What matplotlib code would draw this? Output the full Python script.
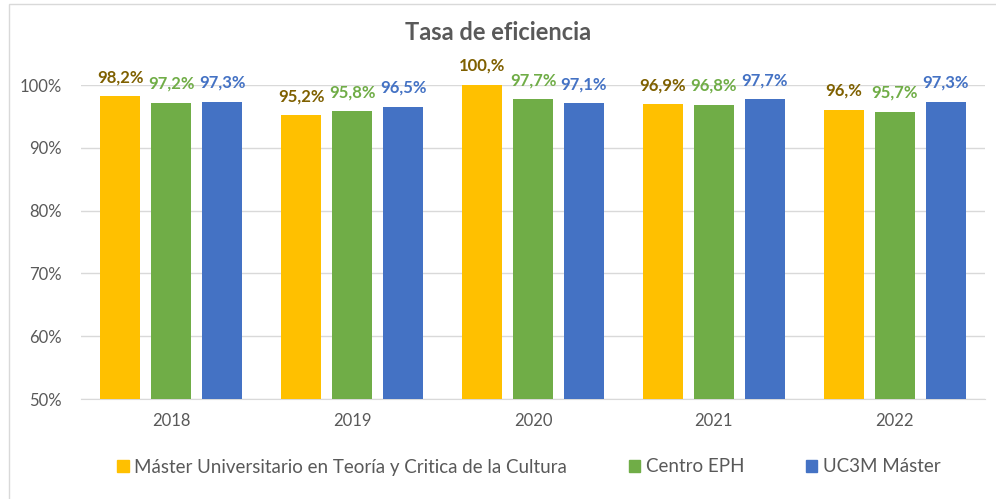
import numpy as np
import matplotlib.pyplot as plt
from matplotlib.patches import Rectangle, Patch

plt.rcParams['font.family'] = ['Lato', 'DejaVu Sans']

years = ['2018', '2019', '2020', '2021', '2022']
series = ['Máster Universitario en Teoría y Critica de la Cultura', 'Centro EPH', 'UC3M Máster']
master = [98.2, 95.2, 100.0, 96.9, 96.0]
centro = [97.2, 95.8, 97.7, 96.8, 95.7]
uc3m = [97.3, 96.5, 97.1, 97.7, 97.3]
labels_master = ['98,2%', '95,2%', '100,%', '96,9%', '96,%']
labels_centro = ['97,2%', '95,8%', '97,7%', '96,8%', '95,7%']
labels_uc3m = ['97,3%', '96,5%', '97,1%', '97,7%', '97,3%']

bar_cols = ['#FFC000', '#70AD47', '#4472C4']
lab_cols = ['#7F6000', '#70AD47', '#4472C4']

fig = plt.figure(figsize=(9.96, 4.99), dpi=100)
fig.patches.append(Rectangle((9 / 996, -0.01), 1.0, 1 - 4 / 499 + 0.01, transform=fig.transFigure,
                             fill=False, edgecolor='#D9D9D9', linewidth=1))
ax = fig.add_axes([81 / 996, 1 - 399 / 499, 904 / 996, 314 / 499])

x = np.arange(len(years))
w = 0.221
step = 0.282
for i, (vals, labs) in enumerate(zip([master, centro, uc3m], [labels_master, labels_centro, labels_uc3m])):
    xs = x + (i - 1) * step
    ax.bar(xs, vals, width=w, color=bar_cols[i], zorder=3, label=series[i])
    for xx, v, t in zip(xs, vals, labs):
        ax.annotate(t, (xx, v), xytext=(0, 8), textcoords='offset points', ha='center', va='bottom',
                    fontsize=12, fontweight='bold', color=lab_cols[i], annotation_clip=False)

ax.set_ylim(50, 100)
ax.set_xlim(-0.5, 4.5)
ax.set_yticks([50, 60, 70, 80, 90, 100])
ax.set_yticklabels(['50%', '60%', '70%', '80%', '90%', '100%'])
ax.set_xticks(x)
ax.set_xticklabels(years)
ax.grid(axis='y', color='#D9D9D9', linewidth=1, zorder=0)
for s in ['top', 'right', 'left']:
    ax.spines[s].set_visible(False)
ax.spines['bottom'].set_color('#D9D9D9')
ax.tick_params(axis='both', length=0, labelsize=12, colors='#595959', pad=10)
ax.tick_params(axis='y', pad=14)

fig.text(0.5, 1 - 33 / 499, 'Tasa de eficiencia', ha='center', va='center',
         fontsize=17, fontweight='bold', color='#595959')

handles = [Patch(color=c) for c in bar_cols]
fig.legend(handles, series, loc='center', bbox_to_anchor=(529 / 996, 1 - 467 / 499), ncol=3, frameon=False,
           fontsize=13.5, labelcolor='#595959', handlelength=0.6, handleheight=0.6, handletextpad=0.3,
           columnspacing=3.3)

fig.savefig('out.png', dpi=100)
